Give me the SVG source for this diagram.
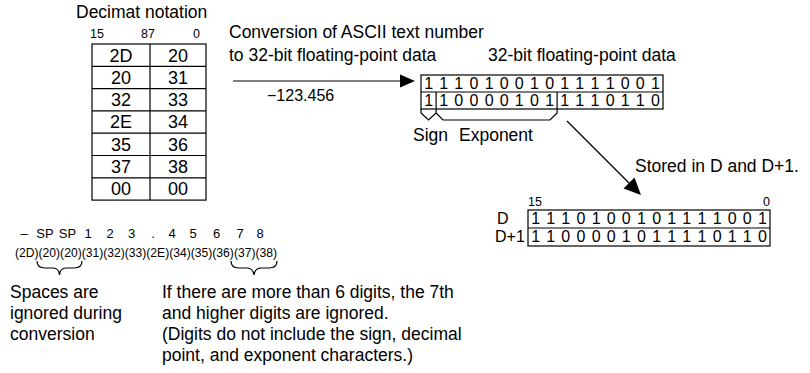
<svg xmlns="http://www.w3.org/2000/svg" width="810" height="373" viewBox="0 0 810 373">
<style>
text{font-family:"Liberation Sans",Arial,sans-serif;fill:#000}
.t{font-size:17.5px}
.s{font-size:12.5px}
.c{font-size:18px;text-anchor:middle}
.b{font-size:16px;text-anchor:middle}
.d{font-size:16px}
.n{font-size:13px}
.ln{stroke:#000;stroke-width:1.2;fill:none}
.box{stroke:#000;stroke-width:1.2;fill:#fff}
</style>
<g id="table">
<text class="t" x="76" y="18">Decimat notation</text>
<text class="s" x="90" y="38">15</text>
<text class="s" x="141" y="38">87</text>
<text class="s" x="193" y="38">0</text>
<rect class="box" x="92" y="44" width="114" height="156.1"/>
<path class="ln" d="M150,44V200.1M92,66.3H206M92,88.6H206M92,110.9H206M92,133.2H206M92,155.5H206M92,177.8H206"/>
<text class="c" x="121" y="61.5">2D</text><text class="c" x="178" y="61.5">20</text>
<text class="c" x="121" y="83.8">20</text><text class="c" x="178" y="83.8">31</text>
<text class="c" x="121" y="106.1">32</text><text class="c" x="178" y="106.1">33</text>
<text class="c" x="121" y="128.4">2E</text><text class="c" x="178" y="128.4">34</text>
<text class="c" x="121" y="150.7">35</text><text class="c" x="178" y="150.7">36</text>
<text class="c" x="121" y="173">37</text><text class="c" x="178" y="173">38</text>
<text class="c" x="121" y="195.3">00</text><text class="c" x="178" y="195.3">00</text>
</g>
<g id="conversion-label">
<text class="t" x="229" y="38">Conversion of ASCII text number</text>
<text class="t" x="229" y="61">to 32-bit floating-point data</text>
<text class="t" x="267" y="101" style="font-size:16px">−123.456</text>
</g>
<g id="float-data">
<text class="t" x="488" y="61">32-bit floating-point data</text>
<rect class="box" x="421" y="75" width="242" height="34"/>
<path class="ln" d="M421,92H663M436.1,92V109M557.1,92V109"/>
<text class="b" y="89" x="428.6 443.7 458.8 473.9 489.1 504.2 519.3 534.4 549.6 564.7 579.8 594.9 610.1 625.2 640.3 655.4">1110100101111001</text>
<text class="b" y="106" x="428.6 443.7 458.8 473.9 489.1 504.2 519.3 534.4 549.6 564.7 579.8 594.9 610.1 625.2 640.3 655.4">1100001011110110</text>
<path class="ln" d="M421,109V113L428.5,120L436.1,113V109M436.1,113L443,120H550L557.1,113V109"/>
<text class="t" x="413" y="141">Sign</text>
<text class="t" x="459" y="141">Exponent</text>
</g>
<g id="d-registers">
<text class="t" x="635" y="172">Stored in D and D+1.</text>
<text class="s" x="528" y="206">15</text>
<text class="s" x="770" y="206" text-anchor="end">0</text>
<text class="d" x="497" y="224">D</text>
<text class="d" x="495" y="242">D+1</text>
<rect class="box" x="528" y="210" width="242" height="36"/>
<path class="ln" d="M528,228H770"/>
<text class="b" y="224" x="535.6 550.7 565.8 580.9 596.1 611.2 626.3 641.4 656.6 671.7 686.8 701.9 717.1 732.2 747.3 762.4">1110100101111001</text>
<text class="b" y="242" x="535.6 550.7 565.8 580.9 596.1 611.2 626.3 641.4 656.6 671.7 686.8 701.9 717.1 732.2 747.3 762.4">1100001011110110</text>
</g>
<g id="ascii-string">
<text class="n" y="238" text-anchor="middle"><tspan x="24">–</tspan><tspan x="45">SP</tspan><tspan x="67.5">SP</tspan><tspan x="88">1</tspan><tspan x="110">2</tspan><tspan x="131.7">3</tspan><tspan x="153">.</tspan><tspan x="172">4</tspan><tspan x="193">5</tspan><tspan x="216.7">6</tspan><tspan x="240">7</tspan><tspan x="260">8</tspan></text>
<text class="n" x="15" y="257" textLength="262" lengthAdjust="spacingAndGlyphs">(2D)(20)(20)(31)(32)(33)(2E)(34)(35)(36)(37)(38)</text>
<path class="ln" d="M37,261Q37,268 45,268H53Q59,268 59.5,275Q60,268 66,268H74Q82,268 82,261"/>
<path class="ln" d="M231,261Q231,268 239,268H247Q253,268 254,275Q255,268 261,268H269Q277,268 277,261"/>
</g>
<g id="notes">
<text class="t" x="10" y="298">Spaces are</text>
<text class="t" x="10" y="319">ignored during</text>
<text class="t" x="10" y="340">conversion</text>
<text class="t" x="162" y="298">If there are more than 6 digits, the 7th</text>
<text class="t" x="162" y="319">and higher digits are ignored.</text>
<text class="t" x="162" y="340">(Digits do not include the sign, decimal</text>
<text class="t" x="162" y="361">point, and exponent characters.)</text>
</g>
<g id="connectors">
<path class="ln" d="M233,81H401"/>
<polygon points="400,74.5 415,81 400,87.5"/>
<path class="ln" d="M567,121L630,184"/>
<polygon points="641,195 623.5,188.5 634.5,177.5"/>
</g>
</svg>
